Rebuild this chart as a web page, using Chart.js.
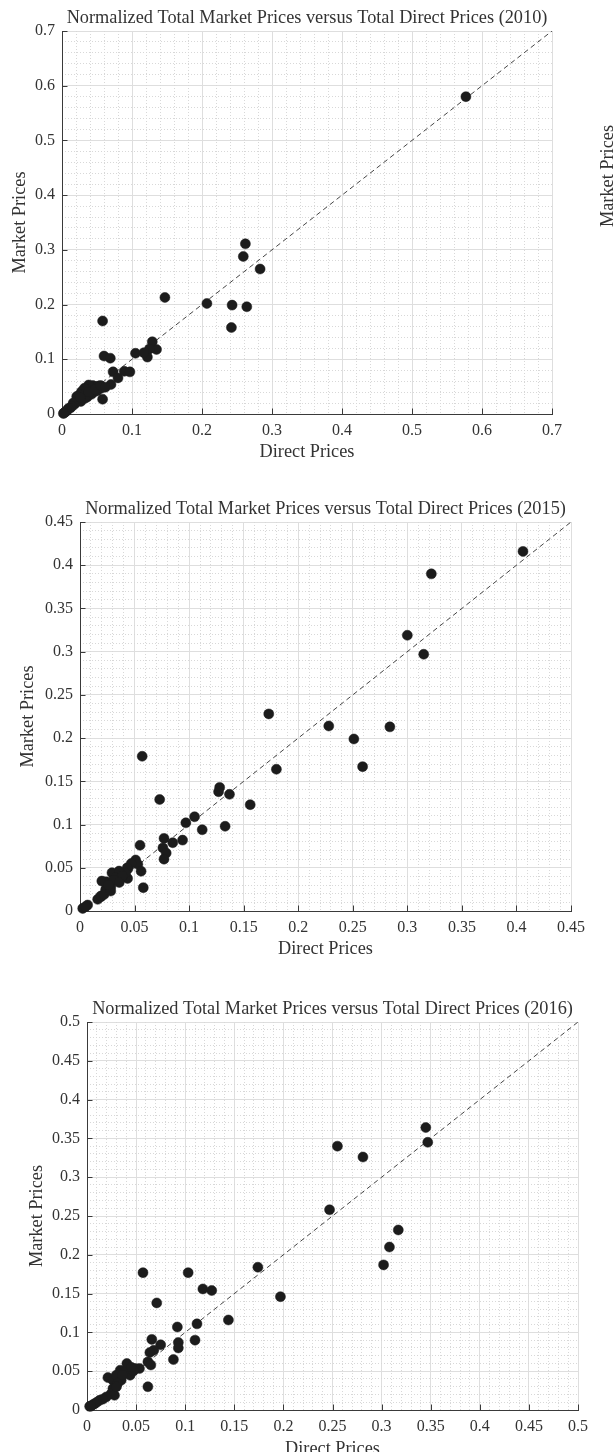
<!DOCTYPE html>
<html>
<head>
<meta charset="utf-8">
<title>Normalized Total Market Prices versus Total Direct Prices</title>
<script src="https://cdn.jsdelivr.net/npm/chart.js@4.4.1/dist/chart.umd.min.js"></script>
<style>
  html, body { margin: 0; padding: 0; background: #ffffff; width: 614px; height: 1452px; overflow: hidden; }
  .panel { position: absolute; left: 0; width: 614px; }
  canvas { display: block; }
</style>
</head>
<body>
<div class="panel" style="top:0px;height:470px"><canvas id="c2010" width="614" height="470"></canvas></div>
<div class="panel" style="top:490px;height:480px"><canvas id="c2015" width="614" height="480"></canvas></div>
<div class="panel" style="top:985px;height:490px"><canvas id="c2016" width="614" height="490"></canvas></div>
<script>
// ---- 2010 ----
const directPrices2010 = [
  0.577, 0.262, 0.259, 0.283, 0.147, 0.207, 0.243, 0.264, 0.242, 0.058,
  0.060, 0.069, 0.105, 0.120, 0.122, 0.129, 0.135, 0.125, 0.117, 0.073,
  0.080, 0.089, 0.097, 0.070, 0.058,
  0.056, 0.052, 0.048, 0.044, 0.040, 0.038, 0.035, 0.032, 0.028, 0.030,
  0.025, 0.021, 0.023, 0.042, 0.045, 0.050, 0.036, 0.033, 0.027, 0.020,
  0.018, 0.016, 0.014, 0.012, 0.009, 0.007, 0.005, 0.003, 0.002, 0.026,
  0.038, 0.047, 0.055, 0.062
];
const marketPrices2010 = [
  0.580, 0.311, 0.288, 0.265, 0.213, 0.202, 0.199, 0.196, 0.158, 0.170,
  0.106, 0.102, 0.111, 0.111, 0.104, 0.132, 0.118, 0.119, 0.112, 0.077,
  0.066, 0.078, 0.077, 0.054, 0.027,
  0.047, 0.051, 0.050, 0.052, 0.050, 0.053, 0.045, 0.047, 0.041, 0.036,
  0.035, 0.032, 0.027, 0.036, 0.040, 0.042, 0.031, 0.029, 0.023, 0.022,
  0.018, 0.020, 0.014, 0.011, 0.010, 0.006, 0.004, 0.002, 0.001, 0.030,
  0.040, 0.045, 0.052, 0.049
];
const ticks2010 = [0, 0.1, 0.2, 0.3, 0.4, 0.5, 0.6, 0.7];

// ---- 2015 ----
const directPrices2015 = [
  0.406, 0.322, 0.300, 0.315, 0.228, 0.251, 0.284, 0.259, 0.173, 0.057,
  0.180, 0.073, 0.128, 0.127, 0.137, 0.156, 0.133, 0.105, 0.097, 0.112,
  0.094, 0.085, 0.077, 0.076, 0.079, 0.077, 0.055, 0.051, 0.053, 0.056,
  0.058, 0.047, 0.044,
  0.0436, 0.039, 0.0344, 0.0293, 0.0238, 0.020, 0.0283, 0.0238, 0.0192, 0.0162,
  0.007, 0.0025, 0.0433, 0.0418, 0.0358, 0.0327, 0.0267, 0.0236, 0.0191, 0.0221,
  0.0282, 0.0388, 0.031, 0.036, 0.026, 0.005
];
const marketPrices2015 = [
  0.416, 0.390, 0.319, 0.297, 0.214, 0.199, 0.213, 0.167, 0.228, 0.179,
  0.164, 0.129, 0.143, 0.138, 0.135, 0.123, 0.098, 0.109, 0.102, 0.094,
  0.082, 0.079, 0.084, 0.073, 0.067, 0.060, 0.076, 0.059, 0.054, 0.046,
  0.027, 0.055, 0.049,
  0.0377, 0.040, 0.0435, 0.0442, 0.0338, 0.0346, 0.028, 0.0242, 0.0165, 0.0135,
  0.0069, 0.003, 0.050, 0.0442, 0.0462, 0.0385, 0.0327, 0.025, 0.0173, 0.0192,
  0.0231, 0.0404, 0.036, 0.033, 0.030, 0.005
];
const ticks2015 = [0, 0.05, 0.1, 0.15, 0.2, 0.25, 0.3, 0.35, 0.4, 0.45];

// ---- 2016 ----
const directPrices2016 = [
  0.345, 0.347, 0.255, 0.281, 0.247, 0.317, 0.308, 0.302, 0.174, 0.103,
  0.118, 0.127, 0.197, 0.057, 0.144, 0.071, 0.112, 0.110, 0.092, 0.093,
  0.093, 0.088, 0.066, 0.075, 0.068, 0.064, 0.062, 0.065, 0.062,
  0.0534, 0.049, 0.0406, 0.0338, 0.0389, 0.0213, 0.0264, 0.0297, 0.0348, 0.0264,
  0.0247, 0.028, 0.0196, 0.0128, 0.0078, 0.0027, 0.006, 0.0439, 0.0473, 0.045,
  0.031, 0.016, 0.010, 0.004, 0.036, 0.030
];
const marketPrices2016 = [
  0.364, 0.345, 0.340, 0.326, 0.258, 0.232, 0.210, 0.187, 0.184, 0.177,
  0.156, 0.154, 0.146, 0.177, 0.116, 0.138, 0.111, 0.090, 0.107, 0.087,
  0.080, 0.065, 0.091, 0.084, 0.077, 0.074, 0.062, 0.058, 0.030,
  0.0534, 0.0534, 0.0599, 0.0513, 0.0491, 0.0418, 0.0384, 0.0448, 0.0384, 0.0276,
  0.0211, 0.019, 0.0168, 0.0125, 0.0082, 0.0047, 0.0069, 0.0448, 0.0504, 0.055,
  0.034, 0.014, 0.010, 0.005, 0.045, 0.030
];
const ticks2016 = [0, 0.05, 0.1, 0.15, 0.2, 0.25, 0.3, 0.35, 0.4, 0.45, 0.5];

// ---- styling ----
const SERIF = '"Liberation Serif", "Times New Roman", serif';
const TEXT = '#333333';
const AXIS = '#3a3a3a';
const MAJOR_GRID = '#dedede';
const MINOR_GRID = '#d8d8d8';
const DOT = '#1c1c1c';
const DIAGONAL = '#454545';
const TICK_SIZE = 16, TITLE_SIZE = 18.3, LH = 1.2;
const TICK_LEN = 5.5;

// Each panel: data, ticks, and where its plot box sits inside its canvas.
const panels = [
  { id: 'c2010', year: '2010', x: directPrices2010, y: marketPrices2010, ticks: ticks2010, minor: 0.02,
    canvasH: 470, left: 62, right: 552, top: 31, bottom: 414, titleY: 18, xTitleY: 452, yTitleX: 20, sideLabel: true },
  { id: 'c2015', year: '2015', x: directPrices2015, y: marketPrices2015, ticks: ticks2015, minor: 0.01,
    canvasH: 480, left: 80, right: 571, top: 32, bottom: 421, titleY: 19, xTitleY: 459, yTitleX: 28 },
  { id: 'c2016', year: '2016', x: directPrices2016, y: marketPrices2016, ticks: ticks2016, minor: 0.01,
    canvasH: 490, left: 87, right: 578, top: 37, bottom: 425, titleY: 24, xTitleY: 464, yTitleX: 37 }
];

const fmt = v => String(parseFloat(Number(v).toFixed(3)));

// MATLAB-style tick marks pointing into the plot
const innerTicks = {
  id: 'innerTicks',
  beforeDatasetsDraw(chart) {
    const { ctx, chartArea: a, scales: { x, y } } = chart;
    ctx.save();
    ctx.strokeStyle = AXIS;
    ctx.lineWidth = 1;
    ctx.beginPath();
    x.ticks.forEach(t => {
      const px = Math.round(x.getPixelForValue(t.value)) + 0.5;
      ctx.moveTo(px, a.bottom);
      ctx.lineTo(px, a.bottom - TICK_LEN);
    });
    y.ticks.forEach(t => {
      const py = Math.round(y.getPixelForValue(t.value)) + 0.5;
      ctx.moveTo(a.left, py);
      ctx.lineTo(a.left + TICK_LEN, py);
    });
    ctx.stroke();
    ctx.restore();
  }
};

// y label of the neighbouring panel, cut by the right edge of the figure
const sideLabel = {
  id: 'sideLabel',
  afterDraw(chart, args, opts) {
    if (!opts.show) return;
    const ctx = chart.ctx;
    ctx.save();
    ctx.translate(608, 176);
    ctx.rotate(-Math.PI / 2);
    ctx.font = TITLE_SIZE + 'px ' + SERIF;
    ctx.fillStyle = TEXT;
    ctx.textAlign = 'center';
    ctx.textBaseline = 'middle';
    ctx.fillText('Market Prices', 0, 0);
    ctx.restore();
  }
};

function isMajor(v, ticks) {
  return ticks.some(t => Math.abs(t - v) < 1e-6);
}

function buildChart(p) {
  const max = p.ticks[p.ticks.length - 1];
  const half = TITLE_SIZE * LH / 2;
  const points = p.x.map((v, i) => ({ x: v, y: p.y[i] }));
  const minorGrid = ctx => (ctx.tick && isMajor(ctx.tick.value, p.ticks)) ? 'rgba(0,0,0,0)' : MINOR_GRID;
  const setTicks = scale => { scale.ticks = p.ticks.map(v => ({ value: v })); };

  return new Chart(document.getElementById(p.id), {
    type: 'scatter',
    data: {
      datasets: [
        {
          data: points,
          pointRadius: 5,
          pointHoverRadius: 5,
          pointBackgroundColor: DOT,
          pointBorderColor: DOT,
          pointBorderWidth: 0.5,
          clip: false,
          xAxisID: 'x', yAxisID: 'y'
        },
        {
          data: [{ x: 0, y: 0 }, { x: max, y: max }],
          showLine: true,
          borderColor: DIAGONAL,
          borderWidth: 1,
          borderDash: [5, 3.5],
          pointRadius: 0,
          fill: false,
          xAxisID: 'x', yAxisID: 'y'
        }
      ]
    },
    options: {
      responsive: false,
      animation: false,
      devicePixelRatio: 1,
      events: [],
      layout: { padding: { left: 0, top: 0, bottom: 0, right: 614 - p.right } },
      plugins: {
        legend: { display: false },
        tooltip: { enabled: false },
        sideLabel: { show: !!p.sideLabel },
        title: {
          display: true,
          fullSize: false,
          text: 'Normalized Total Market Prices versus Total Direct Prices (' + p.year + ')',
          color: TEXT,
          font: { family: SERIF, size: TITLE_SIZE, weight: 'normal', lineHeight: LH },
          padding: { top: p.titleY - half, bottom: p.top - (p.titleY - half) - 2 * half }
        }
      },
      scales: {
        x: {
          type: 'linear', position: 'bottom', min: 0, max: max,
          afterBuildTicks: setTicks,
          afterFit: s => { s.height = p.canvasH - p.bottom; },
          grid: { color: MAJOR_GRID, lineWidth: 1, drawTicks: false },
          border: { display: true, color: AXIS, width: 1 },
          ticks: {
            color: TEXT, autoSkip: false, maxRotation: 0,
            font: { family: SERIF, size: TICK_SIZE, lineHeight: LH },
            padding: 17 - TICK_SIZE * LH / 2,
            callback: v => fmt(v)
          },
          title: {
            display: true, text: 'Direct Prices', color: TEXT,
            font: { family: SERIF, size: TITLE_SIZE, weight: 'normal', lineHeight: LH },
            padding: { top: 0, bottom: (p.canvasH - p.xTitleY) - half }
          }
        },
        y: {
          type: 'linear', position: 'left', min: 0, max: max,
          afterBuildTicks: setTicks,
          afterFit: s => { s.width = p.left; },
          grid: { color: MAJOR_GRID, lineWidth: 1, drawTicks: false },
          border: { display: true, color: AXIS, width: 1 },
          ticks: {
            color: TEXT, autoSkip: false,
            font: { family: SERIF, size: TICK_SIZE, lineHeight: LH },
            padding: 7,
            callback: v => fmt(v)
          },
          title: {
            display: true, text: 'Market Prices', color: TEXT,
            font: { family: SERIF, size: TITLE_SIZE, weight: 'normal', lineHeight: LH },
            padding: { top: p.yTitleX - half, bottom: 0 }
          }
        },
        xMinor: {
          type: 'linear', position: 'bottom', min: 0, max: max,
          afterFit: s => { s.height = 0; },
          ticks: { display: false, stepSize: p.minor, autoSkip: false },
          grid: { color: minorGrid, lineWidth: 1, drawTicks: false },
          border: { display: false, dash: [1, 2] }
        },
        yMinor: {
          type: 'linear', position: 'left', min: 0, max: max,
          afterFit: s => { s.width = 0; },
          ticks: { display: false, stepSize: p.minor, autoSkip: false },
          grid: { color: minorGrid, lineWidth: 1, drawTicks: false },
          border: { display: false, dash: [1, 2] }
        }
      }
    },
    plugins: [innerTicks, sideLabel]
  });
}

panels.forEach(buildChart);
</script>
</body>
</html>
